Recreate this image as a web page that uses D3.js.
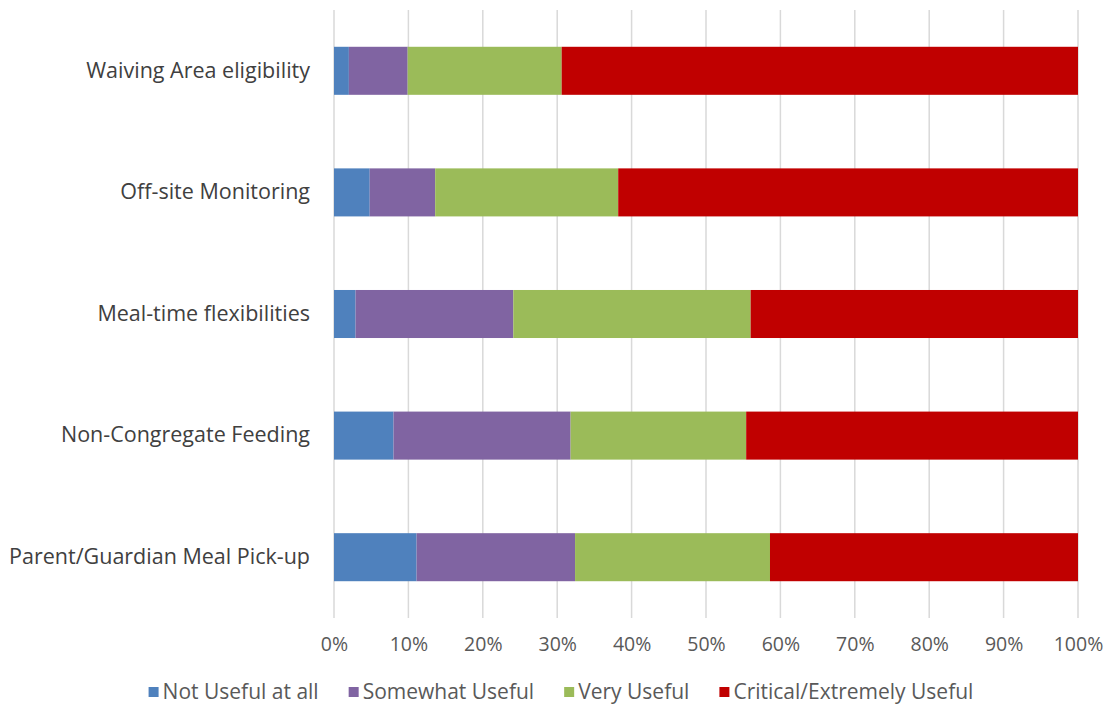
<!DOCTYPE html>
<html>
<head>
<meta charset="utf-8">
<script src="https://cdn.jsdelivr.net/npm/d3@7"></script>
<style>
  html, body { margin: 0; padding: 0; background: #fff; }
  svg { display: block; font-family: "Open Sans", "Noto Sans", sans-serif; }
</style>
</head>
<body>
<svg id="chart" width="1107" height="705"></svg>
<script>
const categories = [
  "Waiving Area eligibility",
  "Off-site Monitoring",
  "Meal-time flexibilities",
  "Non-Congregate Feeding",
  "Parent/Guardian Meal Pick-up"
];
const seriesNames = ["Not Useful at all", "Somewhat Useful", "Very Useful", "Critical/Extremely Useful"];
const notUseful      = [2.0, 4.8, 2.9, 8.0, 11.1];
const somewhatUseful = [7.9, 8.8, 21.2, 23.8, 21.3];
const veryUseful     = [20.7, 24.6, 31.9, 23.6, 26.2];
const critical       = [69.4, 61.8, 44.0, 44.6, 41.4];
const seriesColors = ["#4F81BD", "#8064A2", "#9BBB59", "#C00000"];
const tickValues = [0, 10, 20, 30, 40, 50, 60, 70, 80, 90, 100];

const rows = categories.map((c, i) => ({
  category: c,
  [seriesNames[0]]: notUseful[i],
  [seriesNames[1]]: somewhatUseful[i],
  [seriesNames[2]]: veryUseful[i],
  [seriesNames[3]]: critical[i]
}));

const svg = d3.select("#chart");
const margin = { top: 10, right: 29, bottom: 87, left: 334 };
const W = 1107, H = 705;

const x = d3.scaleLinear().domain([0, 100]).range([margin.left, W - margin.right]);
const y = d3.scaleBand().domain(categories).range([margin.top, H - margin.bottom])
  .paddingInner(0.605).paddingOuter(0.3025);
const color = d3.scaleOrdinal().domain(seriesNames).range(seriesColors);

// gridlines
svg.append("g").selectAll("line").data(tickValues).join("line")
  .attr("x1", d => x(d)).attr("x2", d => x(d))
  .attr("y1", margin.top).attr("y2", H - margin.bottom)
  .attr("stroke", "#d9d9d9").attr("stroke-width", 1.5);

// bars
const stacked = d3.stack().keys(seriesNames)(rows);
svg.append("g").selectAll("g").data(stacked).join("g")
  .attr("fill", d => color(d.key))
  .selectAll("rect").data(d => d).join("rect")
  .attr("x", d => x(d[0]))
  .attr("width", d => x(d[1]) - x(d[0]))
  .attr("y", d => y(d.data.category))
  .attr("height", y.bandwidth());

// x axis labels
const xAxis = d3.axisBottom(x).tickValues(tickValues).tickFormat(d => d + "%").tickSize(0).tickPadding(19);
const gx = svg.append("g").attr("transform", `translate(0,${H - margin.bottom})`).call(xAxis);
gx.select(".domain").remove();
gx.selectAll("text").attr("font-size", 19.5).attr("fill", "#595959").attr("font-family", "Open Sans");

// y axis labels
const yAxis = d3.axisLeft(y).tickSize(0).tickPadding(24);
const gy = svg.append("g").attr("transform", `translate(${margin.left},0)`).call(yAxis);
gy.select(".domain").remove();
gy.selectAll("text").attr("font-size", 21.5).attr("fill", "#404040").attr("font-family", "Open Sans");

// legend
const legend = svg.append("g").attr("transform", "translate(0,692)");
const items = legend.selectAll("g").data(seriesNames).join("g");
items.append("rect").attr("width", 10).attr("height", 10).attr("y", -5).attr("fill", d => color(d));
items.append("text").attr("x", 14).attr("dy", "0.35em")
  .attr("font-size", 21).attr("fill", "#595959").text(d => d);
let widths = [];
items.each(function () { widths.push(this.getBBox().width); });
const gap = 30;
const total = d3.sum(widths) + gap * (widths.length - 1);
let cx = 561 - total / 2;
items.attr("transform", (d, i) => { const t = `translate(${cx},0)`; cx += widths[i] + gap; return t; });
</script>
</body>
</html>
